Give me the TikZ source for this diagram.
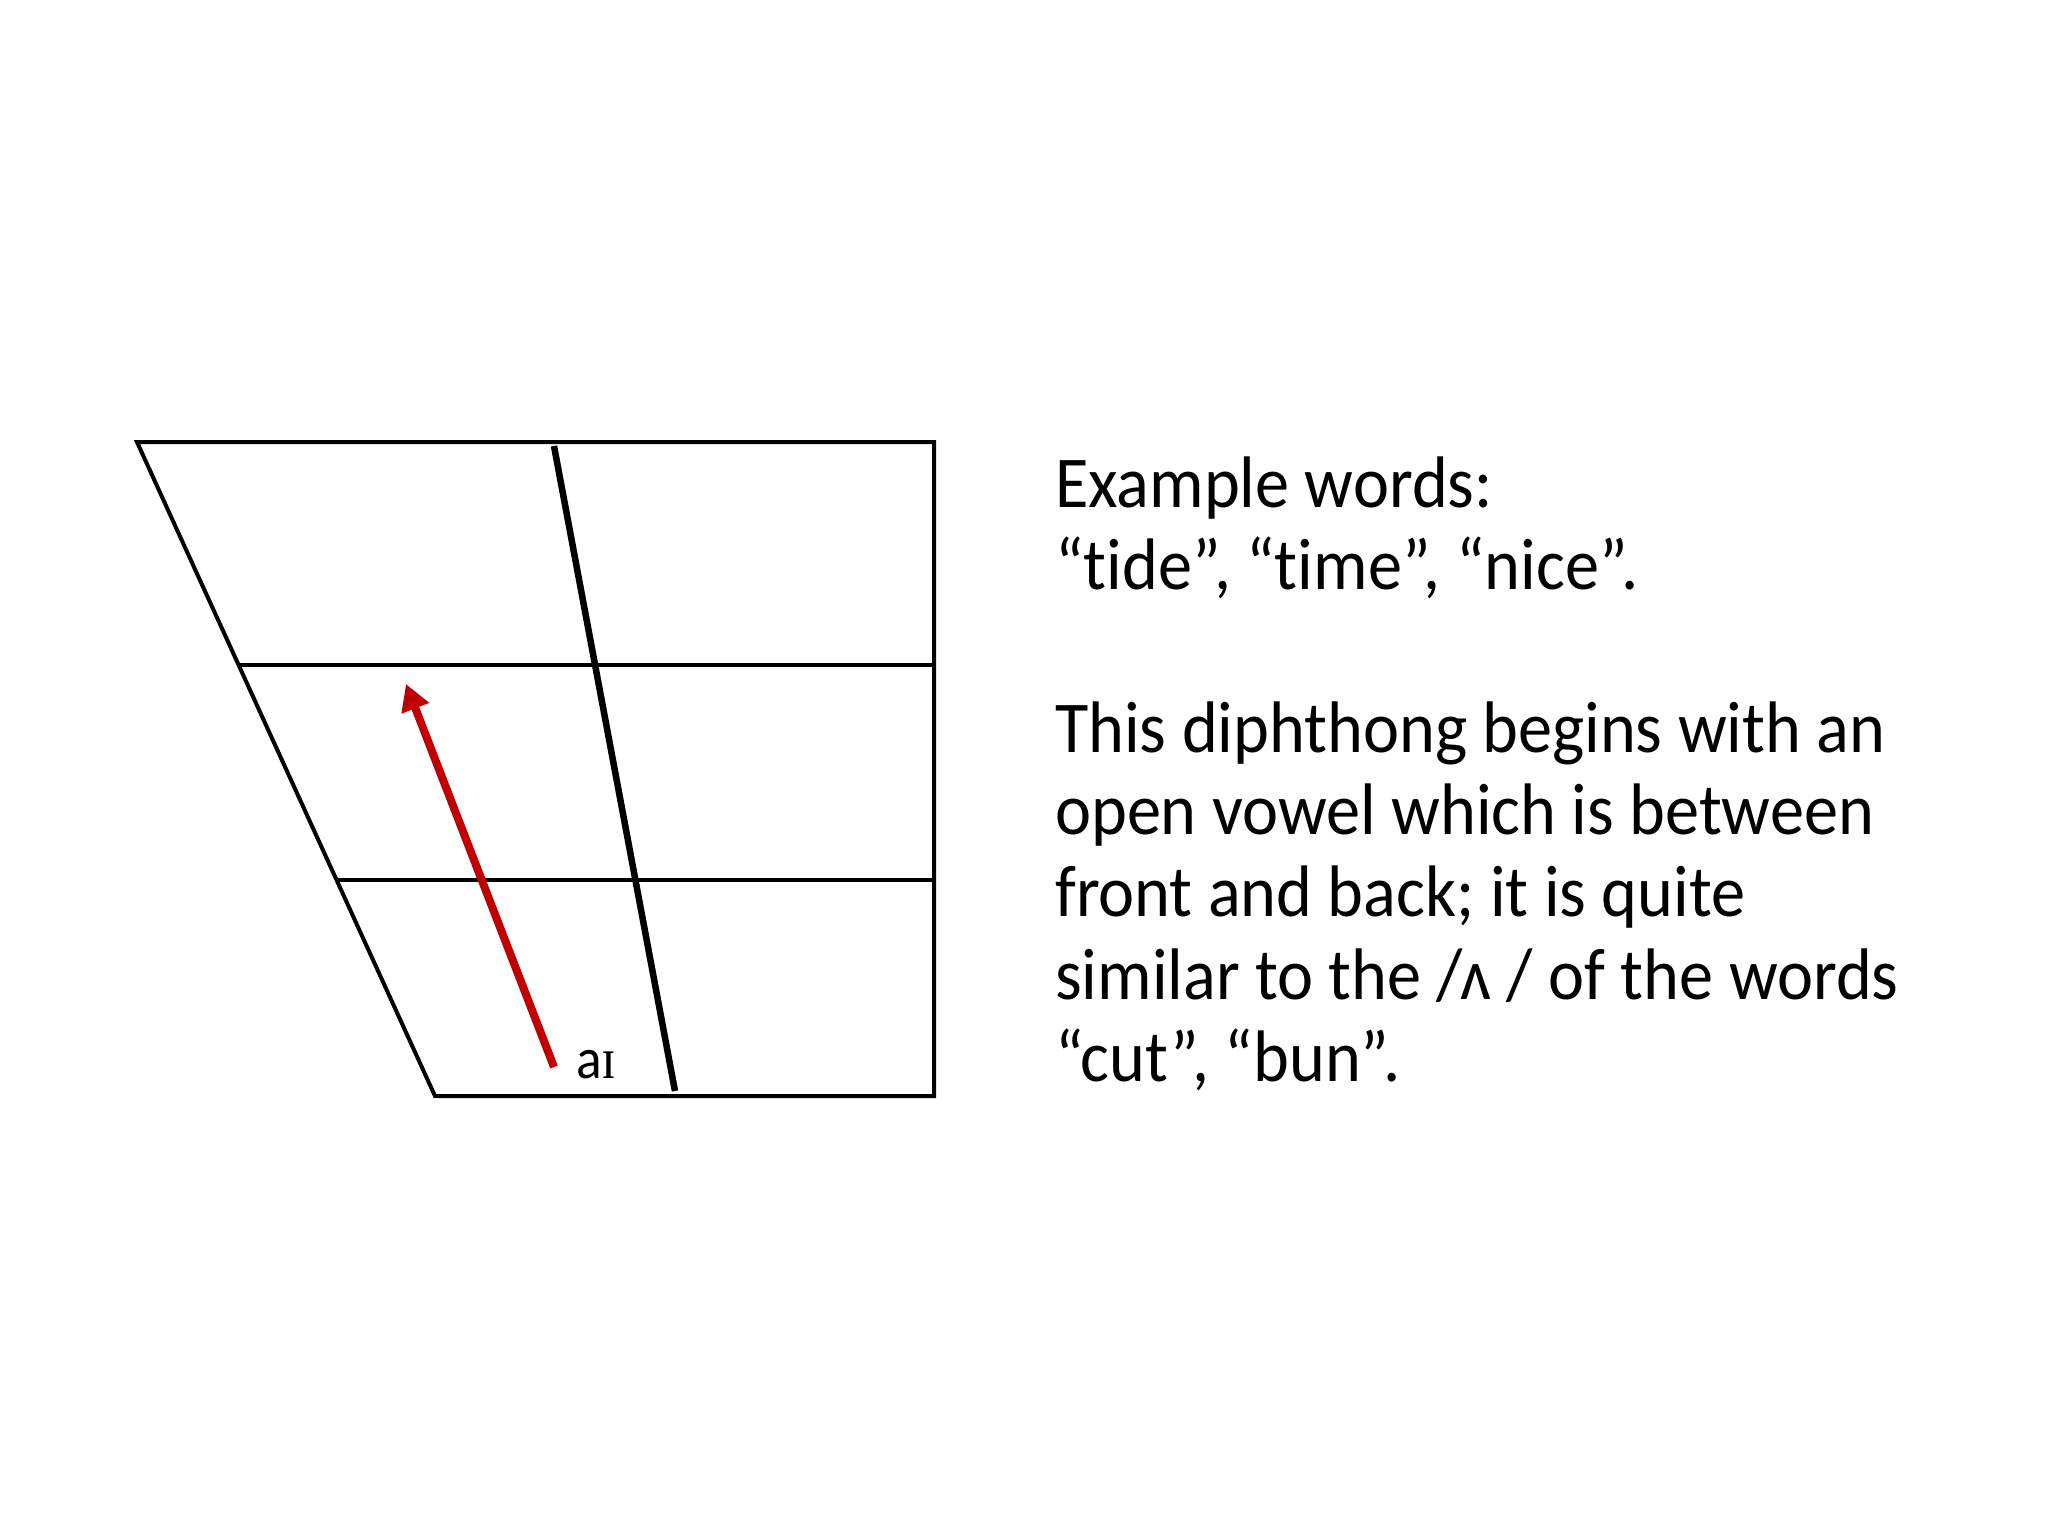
\documentclass[tikz,border=0pt]{standalone}
\usepackage{fontspec}
\setmainfont{Carlito}[Ligatures={NoCommon}]
\newfontfamily\ipaserif{Liberation Serif}
\usetikzlibrary{arrows.meta}
\definecolor{arrowred}{HTML}{C00000}
\tikzset{
  frame/.style={line width=4pt, black},
  midline/.style={line width=6.5pt, black},
  redarrow/.style={line width=8pt, arrowred, -{Triangle[length=26pt,width=28pt]}},
  txt/.style={anchor=base west, inner sep=0pt, xscale=0.935, transform shape, font=\fontsize{73}{82}\selectfont},
}
\begin{document}
\begin{tikzpicture}[x=1pt,y=-1pt]
\useasboundingbox[fill=white] (0,0) rectangle (2048,1536);
% chart corners
\coordinate (tl) at (137,442);
\coordinate (tr) at (934,442);
\coordinate (br) at (934,1096);
\coordinate (bl) at (435,1096);
\coordinate (m1l) at (240,665);
\coordinate (m1r) at (934,665);
\coordinate (m2l) at (337,880);
\coordinate (m2r) at (934,880);
\coordinate (vt) at (554,446);
\coordinate (vb) at (675,1091);
\coordinate (as) at (554,1067);
\coordinate (ae) at (406,684);
\draw[frame, line join=miter] (tl) -- (tr) -- (br) -- (bl) -- cycle;
\draw[frame] (m1l) -- (m1r);
\draw[frame] (m2l) -- (m2r);
\draw[midline] (vt) -- (vb);
\draw[redarrow] (as) -- (ae);
\node[anchor=base west, inner sep=0pt, xscale=0.92, transform shape, font=\fontsize{58}{62}\selectfont] (lab) at (576,1078) {a{\ipaserif ɪ}};
% text
\node[txt] (l1) at (1055,507) {Example words:};
\node[txt] (l2) at (1055,589) {“tide”, “time”, “nice”.};
\node[txt] (l3) at (1055,752) {This diphthong begins with an};
\node[txt] (l4) at (1055,834) {open vowel which is between};
\node[txt] (l5) at (1055,916) {front and back; it is quite};
\node[txt] (l6) at (1055,999) {similar to the /ʌ / of the words};
\node[txt] (l7) at (1055,1081) {“cut”, “bun”.};
\end{tikzpicture}
\end{document}
